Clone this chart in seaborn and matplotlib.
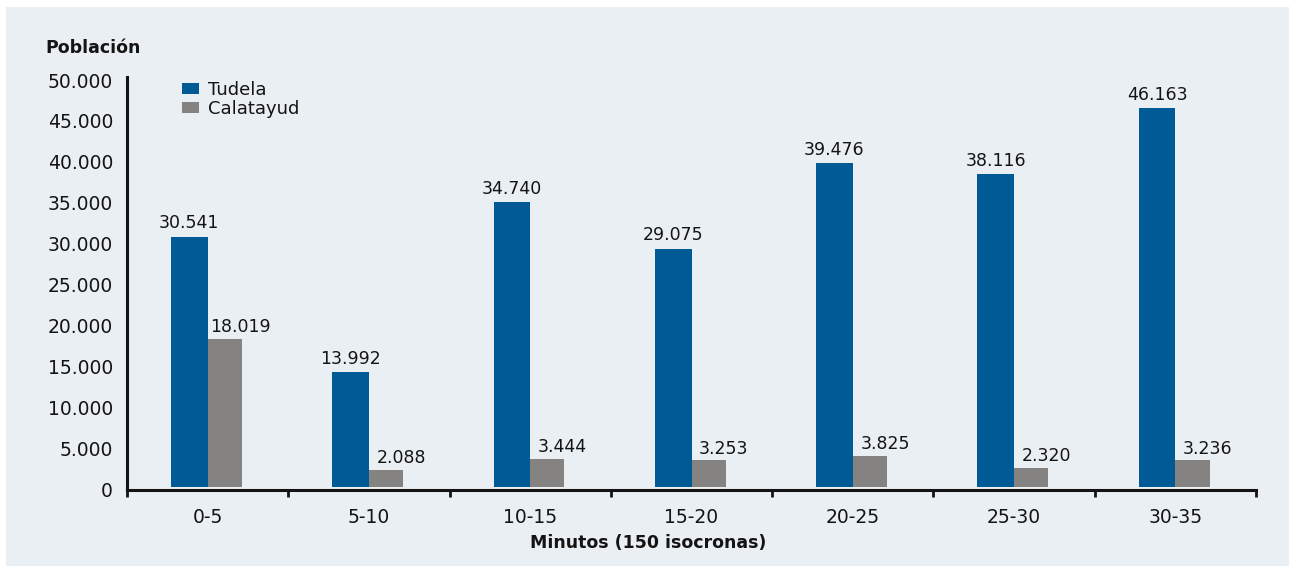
import matplotlib
matplotlib.use("Agg")
import matplotlib.pyplot as plt
import matplotlib.transforms as mtransforms
from matplotlib.patches import Rectangle
from matplotlib.ticker import MultipleLocator, FixedLocator
import seaborn as sns
import pandas as pd

# Población alcanzable por intervalo de minutos
rangos = ["0-5", "5-10", "10-15", "15-20", "20-25", "25-30", "30-35"]
tudela = [30541, 13992, 34740, 29075, 39476, 38116, 46163]
calatayud = [18019, 2088, 3444, 3253, 3825, 2320, 3236]
ciudades = ["Tudela", "Calatayud"]
colores = ["#005a96", "#858381"]

df = pd.DataFrame({
    "rango": rangos * 2,
    "poblacion": tudela + calatayud,
    "ciudad": [ciudades[0]] * len(rangos) + [ciudades[1]] * len(rangos),
})

sns.set_theme(style="ticks")
plt.rcParams["font.family"] = ["DejaVu Sans"]
ink = "#141414"
bg = "#eaeff4"

W, H = 1289, 566
fig = plt.figure(figsize=(W / 100, H / 100), dpi=100)
fig.patch.set_facecolor("white")
fig.patches.append(Rectangle((6 / W, 0), 1, 1 - 7 / H, transform=fig.transFigure,
                             facecolor=bg, edgecolor="none", zorder=-10))

ax = fig.add_axes([127 / W, 1 - 490 / H, (1256 - 127) / W, (490 - 77) / H])
ax.set_facecolor("none")

sns.barplot(data=df, x="rango", y="poblacion", hue="ciudad", hue_order=ciudades,
            palette=colores, saturation=1, width=0.455, dodge=True, ax=ax,
            errorbar=None, linewidth=0)

# Barras grises algo más estrechas que las azules
for bar in ax.containers[1]:
    bar.set_width(0.212)

ax.set_xlim(-0.5, len(rangos) - 0.5)

# Etiquetas de valor
fmt = lambda v: f"{v:,}".replace(",", ".")
for bar, v in zip(ax.containers[0], tudela):
    ax.annotate(fmt(v), (bar.get_x() + bar.get_width() / 2, v), xytext=(0, 3),
                textcoords="offset points", ha="center", va="bottom",
                fontsize=12.5, color=ink)
for bar, v in zip(ax.containers[1], calatayud):
    ax.annotate(fmt(v), (bar.get_x() + bar.get_width() / 2, v), xytext=(11, 2),
                textcoords="offset points", ha="center", va="bottom",
                fontsize=12.5, color=ink)

# Ejes
for side in ("top", "right"):
    ax.spines[side].set_visible(False)
for side in ("left", "bottom"):
    ax.spines[side].set_linewidth(2.2)
    ax.spines[side].set_color(ink)

ax.yaxis.set_major_locator(MultipleLocator(5000))
ax.yaxis.set_minor_locator(MultipleLocator(10000))
ax.set_ylim(-366, 50000)
ax.set_yticklabels([fmt(int(t)) if t >= 0 else "" for t in ax.get_yticks()])
ax.set_ylim(-366, 50000)
ax.tick_params(axis="y", which="major", length=0, pad=10, labelsize=13.5, labelcolor=ink)
ax.tick_params(axis="y", which="minor", length=5, width=2, color=ink, direction="out")

ax.xaxis.set_minor_locator(FixedLocator([i - 0.5 for i in range(len(rangos) + 1)]))
ax.tick_params(axis="x", which="major", length=0, pad=13, labelsize=13.5, labelcolor=ink)
ax.tick_params(axis="x", which="minor", length=5, width=2, color=ink, direction="out")

shift = mtransforms.ScaledTranslation(0, -3 / 100, fig.dpi_scale_trans)
for lab in ax.get_yticklabels():
    lab.set_transform(lab.get_transform() + shift)

ax.set_xlabel("")
ax.set_ylabel("")

fig.text(45 / W, 1 - 48 / H, "Población", fontsize=12.5, fontweight="bold",
         color=ink, ha="left", va="center")
fig.text(648 / W, 1 - 543 / H, "Minutos (150 isocronas)", fontsize=12.5,
         fontweight="bold", color=ink, ha="center", va="center")

handles, labels = ax.get_legend_handles_labels()
ax.legend(handles, labels, loc="upper left", bbox_to_anchor=(182 / W, 1 - 81 / H),
          bbox_transform=fig.transFigure, frameon=False, fontsize=13,
          handlelength=0.95, handleheight=0.55, handletextpad=0.5,
          labelspacing=0.06, borderpad=0, borderaxespad=0, labelcolor=ink)

fig.savefig("out.png", dpi=100, facecolor=fig.get_facecolor())
